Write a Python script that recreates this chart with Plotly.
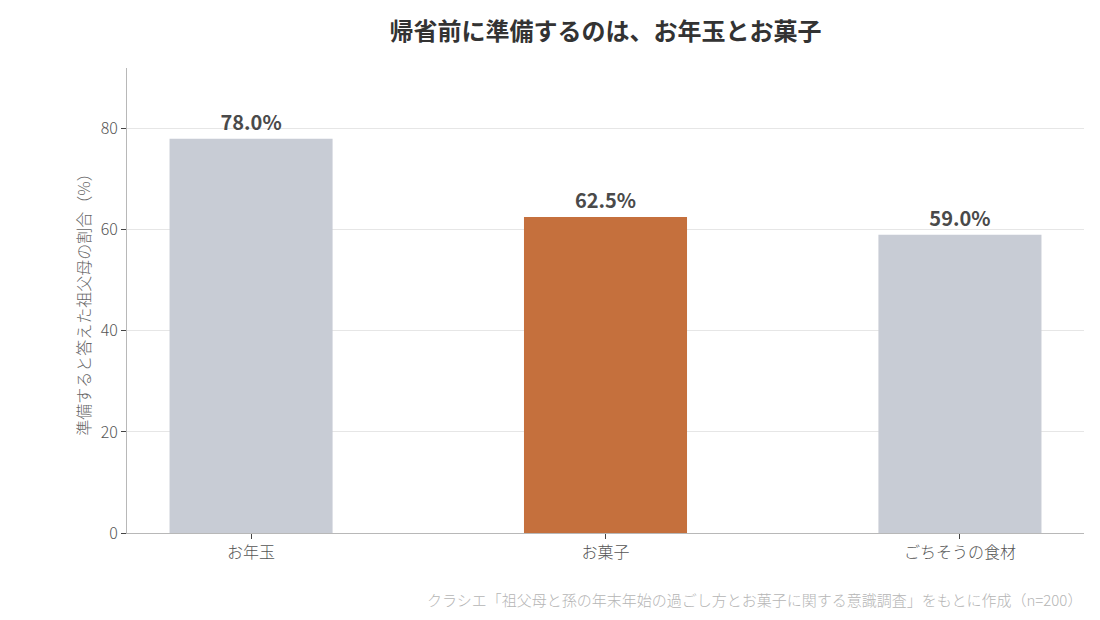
import plotly.graph_objects as go

# data
categories = ["お年玉", "お菓子", "ごちそうの食材"]
values = [78.0, 62.5, 59.0]
bar_colors = ["#c8ccd5", "#c5703d", "#c8ccd5"]
labels = [f"{v:.1f}%" for v in values]

title_text = "帰省前に準備するのは、お年玉とお菓子"
y_title = "準備すると答えた祖父母の割合（%）"
source_text = "クラシエ「祖父母と孫の年末年始の過ごし方とお菓子に関する意識調査」をもとに作成（n=200）"

font_family = "Noto Sans CJK JP"

fig = go.Figure()
fig.add_trace(go.Bar(
    x=categories,
    y=values,
    marker_color=bar_colors,
    marker_line_width=0,
    width=0.46,
    text=labels,
    textposition="outside",
    textfont=dict(size=20, color="#4a4a4a", family=font_family, weight="bold"),
    cliponaxis=False,
    hoverinfo="skip",
))

# the page has an 8px body margin, so the figure is drawn 8px smaller
fig.update_layout(
    width=1092,
    height=612,
    margin=dict(l=119, r=16, t=60, b=87),
    paper_bgcolor="white",
    plot_bgcolor="white",
    font=dict(family=font_family, size=16, color="#555555", weight=300),
    showlegend=False,
    title=dict(
        text=title_text,
        x=0.5,
        xref="paper",
        xanchor="center",
        y=0.961,
        yanchor="middle",
        font=dict(size=24, color="#333333", family=font_family, weight="bold"),
    ),
    xaxis=dict(
        range=[-0.35, 2.35],
        showline=True,
        linecolor="#b8b8b8",
        linewidth=1,
        ticks="outside",
        ticklen=5,
        tickcolor="#444444",
        tickfont=dict(size=16, color="#555555", weight=300),
        showgrid=False,
    ),
    yaxis=dict(
        range=[0, 92],
        tickvals=[0, 20, 40, 60, 80],
        showline=True,
        linecolor="#b8b8b8",
        linewidth=1,
        ticks="outside",
        ticklen=5,
        tickcolor="#444444",
        tickfont=dict(size=16, color="#555555", weight=300),
        showgrid=True,
        gridcolor="#e6e6e6",
        zeroline=False,
        title=dict(text=y_title, font=dict(size=16, color="#666666", weight=300), standoff=6),
    ),
    annotations=[dict(
        text=source_text,
        xref="paper", yref="paper",
        x=1.0, y=-0.144,
        xanchor="right", yanchor="middle",
        showarrow=False,
        font=dict(size=15, color="#b5b5b5", weight=300),
    )],
)

fig.write_html("out.html")
